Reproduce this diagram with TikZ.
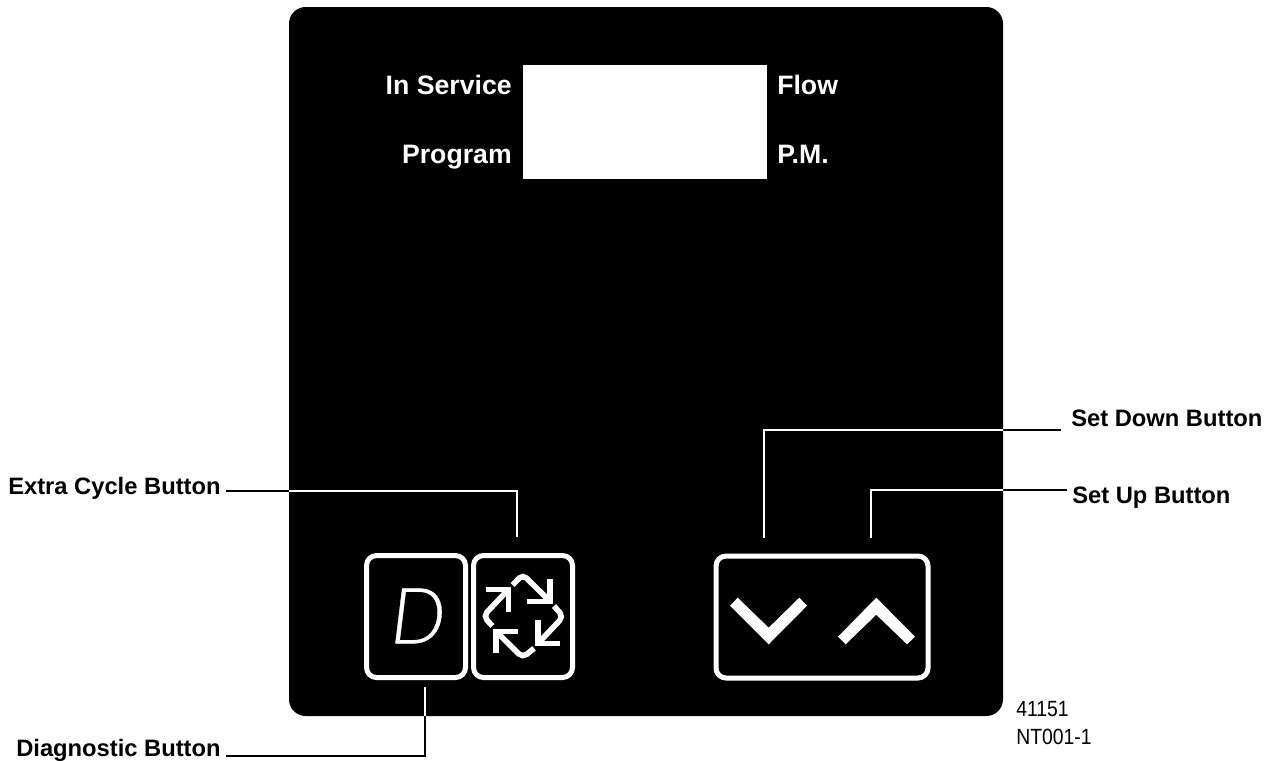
\documentclass[tikz,border=0pt]{standalone}
\usepackage{fontspec}
\setmainfont{Liberation Sans}
\newfontfamily\narrowfont[FakeStretch=0.88]{Liberation Sans}
\newfontface\dfont[FakeBold=0.5]{Lato Light Italic}
\tikzset{
  lab/.style={font=\fontsize{17.8}{18}\selectfont\bfseries,inner sep=0pt,text=black},
  wlab/.style={font=\fontsize{20}{20}\selectfont\bfseries,inner sep=0pt,text=white},
  note/.style={font=\narrowfont\fontsize{16.5}{18}\selectfont,inner sep=0pt,text=black},
  btn/.style={draw=white,line width=3.75pt,rounded corners=7.5pt,fill=black,inner sep=0pt},
  lead/.style={line width=1.5pt},
  arw/.style={draw=white,line width=4.2pt,line join=miter},
  shaft/.style={draw=white,line width=4.2pt,rounded corners=4pt},
}
\newcommand{\leaderpaths}[1]{%
  \draw[lead,#1] (extraStart) -| (extraEnd);
  \draw[lead,#1] (diagStart) -| (diagEnd);
  \draw[lead,#1] (downStart) -| (downEnd);
  \draw[lead,#1] (upStart) -| (upEnd);
}
\begin{document}
\begin{tikzpicture}[x=0.75pt,y=-0.75pt]
\useasboundingbox (0,0) rectangle (1272,761);
\fill[white] (0,0) rectangle (1272,761);
\fill[black,rounded corners=12.5pt] (289,7) rectangle (1003,716);
\fill[white] (522.5,65) rectangle (767,178.5);
\node[wlab,anchor=base east] (inservice) at (512,94.5) {In Service};
\node[wlab,anchor=base east] (program) at (512,163.5) {Program};
\node[wlab,anchor=base west] (flow) at (777,94.5) {Flow};
\node[wlab,anchor=base west] (pm) at (777,163.5) {P.M.};
\node[btn,minimum width=74.25pt,minimum height=91.5pt] (dbox) at (416,616.5) {};
\node[font=\dfont\fontsize{58}{58}\selectfont,text=white,inner sep=0pt] (dletter) at (418,616) {D};
\node[btn,minimum width=74.25pt,minimum height=91.5pt] (rbox) at (523,616.5) {};
\node[btn,minimum width=159pt,minimum height=91.5pt] (abox) at (822,617) {};
\begin{scope}[shift={(350,540)},x=0.25pt,y=-0.25pt]
\draw[arw] (408,149) -- (475,149) -- (475,215);
\draw[shaft] (470,154) -- (400,228) -- (427,258);
\draw[arw] (532,184) -- (600,184) -- (600,118);
\draw[shaft] (595,179) -- (518,103) -- (488,135);
\draw[arw] (630,310) -- (564,310) -- (564,240);
\draw[shaft] (569,305) -- (640,230) -- (612,198);
\draw[arw] (505,274) -- (438,274) -- (438,340);
\draw[shaft] (443,279) -- (518,353) -- (552,325);
\end{scope}
\fill[white] (730,605.7) -- (737.7,597.7) -- (768.7,627.7) -- (799.3,597.7) -- (807,605.7) -- (768.7,644.3) -- cycle;
\fill[white] (838,636.7) -- (876.3,597.7) -- (915,636.7) -- (907,644.3) -- (876.3,614.7) -- (845.7,644.3) -- cycle;
\node[lab,anchor=base west] (extra) at (8,494) {Extra Cycle Button};
\node[lab,anchor=base west] (diag) at (16,756.5) {Diagnostic Button};
\node[lab,anchor=base west] (setdown) at (1071,426.5) {Set Down Button};
\node[lab,anchor=base west] (setup) at (1072,503) {Set Up Button};
\node[note,anchor=base west] (codea) at (1016,716) {41151};
\node[note,anchor=base west] (codeb) at (1016,744.5) {NT001-1};
\coordinate (extraStart) at (226,491);
\coordinate (extraEnd) at (517,537);
\coordinate (diagStart) at (226,755.5);
\coordinate (diagEnd) at (425,687);
\coordinate (downStart) at (1061,429.5);
\coordinate (downEnd) at (764,538);
\coordinate (upStart) at (1066.5,489.5);
\coordinate (upEnd) at (871,538);
\leaderpaths{draw=black}
\begin{scope}
\clip[rounded corners=12.5pt] (289,7) rectangle (1003,716);
\leaderpaths{draw=white}
\end{scope}
\end{tikzpicture}
\end{document}
